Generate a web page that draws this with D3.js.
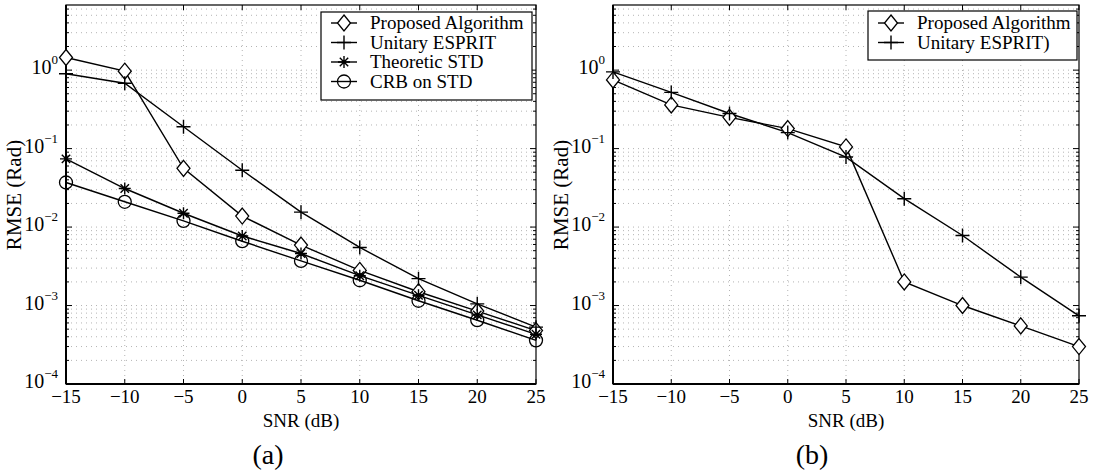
<!DOCTYPE html>
<html>
<head>
<meta charset="utf-8">
<script src="https://cdn.jsdelivr.net/npm/d3@7"></script>
<style>
  body { margin: 0; background: #fff; }
  svg { font-family: "Liberation Serif", "DejaVu Serif", serif; }
  .grid line { stroke: #b4b4b4; stroke-dasharray: 1,4; stroke-width: 1; }
</style>
</head>
<body>
<svg id="chart" width="1094" height="476"></svg>
<script>
// --- data ---
const snr = [-15, -10, -5, 0, 5, 10, 15, 20, 25];

const aProposed  = [1.45, 0.97, 0.056, 0.0138, 0.0059, 0.0028, 0.0015, 0.00085, 0.00048];
const aUnitary   = [0.9, 0.68, 0.19, 0.053, 0.0155, 0.0055, 0.0022, 0.00105, 0.00053];
const aTheoretic = [0.074, 0.031, 0.015, 0.0077, 0.0046, 0.0024, 0.00135, 0.00076, 0.00043];
const aCRB       = [0.037, 0.021, 0.012, 0.0066, 0.0037, 0.0021, 0.00115, 0.00065, 0.00036];

const bProposed  = [0.75, 0.36, 0.25, 0.18, 0.105, 0.002, 0.001, 0.00055, 0.0003];
const bUnitary   = [0.95, 0.52, 0.28, 0.16, 0.078, 0.023, 0.0078, 0.0023, 0.00074];

const xTicks = [-15, -10, -5, 0, 5, 10, 15, 20, 25];
const yDecades = [-4, -3, -2, -1, 0];

const panels = [
  {
    left: 66, right: 536, tag: "(a)", tagX: 268,
    series: [
      { name: "Proposed Algorithm", values: aProposed, marker: "diamond" },
      { name: "Unitary ESPRIT", values: aUnitary, marker: "plus" },
      { name: "Theoretic STD", values: aTheoretic, marker: "star" },
      { name: "CRB on STD", values: aCRB, marker: "circle" }
    ],
    legend: { x: 321, y: 12, w: 211, rowH: 19.5, first: 11 }
  },
  {
    left: 613, right: 1079, tag: "(b)", tagX: 812,
    series: [
      { name: "Proposed Algorithm", values: bProposed, marker: "diamond" },
      { name: "Unitary ESPRIT)", values: bUnitary, marker: "plus" }
    ],
    legend: { x: 868, y: 11, w: 209, rowH: 19.5, first: 12 }
  }
];

const plotTop = 5, plotBottom = 384;
const svg = d3.select("#chart");

function drawMarker(g, type, x, y) {
  if (type === "diamond") {
    g.append("path")
      .attr("d", `M${x},${y - 8}L${x + 6.5},${y}L${x},${y + 8}L${x - 6.5},${y}Z`)
      .attr("fill", "#fff").attr("stroke", "#000").attr("stroke-width", 1.3);
  } else if (type === "circle") {
    g.append("circle").attr("cx", x).attr("cy", y).attr("r", 6.5)
      .attr("fill", "none").attr("stroke", "#000").attr("stroke-width", 1.3);
  } else if (type === "plus") {
    g.append("path")
      .attr("d", `M${x - 7},${y}H${x + 7}M${x},${y - 7}V${y + 7}`)
      .attr("stroke", "#000").attr("stroke-width", 1.4);
  } else if (type === "star") {
    const r = 6;
    g.append("path")
      .attr("d", `M${x - r},${y}H${x + r}M${x},${y - r}V${y + r}` +
        `M${x - r * 0.7},${y - r * 0.7}L${x + r * 0.7},${y + r * 0.7}` +
        `M${x - r * 0.7},${y + r * 0.7}L${x + r * 0.7},${y - r * 0.7}`)
      .attr("stroke", "#000").attr("stroke-width", 1.4);
  }
}

panels.forEach(p => {
  const x = d3.scaleLinear().domain([-15, 25]).range([p.left, p.right]);
  const y = d3.scaleLog().domain([1e-4, Math.pow(10, 0.83)]).range([plotBottom, plotTop]);

  const g = svg.append("g");

  // grid
  const grid = g.append("g").attr("class", "grid");
  xTicks.slice(1, -1).forEach(t => {
    grid.append("line").attr("x1", x(t)).attr("x2", x(t)).attr("y1", plotTop).attr("y2", plotBottom);
  });
  const minor = [];
  yDecades.forEach(d => {
    for (let k = 1; k < 10; k++) {
      const v = k * Math.pow(10, d);
      if (v > 1e-4 && v < y.domain()[1]) minor.push(v);
    }
  });
  minor.forEach(v => {
    grid.append("line").attr("x1", p.left).attr("x2", p.right).attr("y1", y(v)).attr("y2", y(v));
  });

  // ticks (inward, all four sides)
  const ticks = g.append("g").attr("stroke", "#000").attr("stroke-width", 1);
  xTicks.forEach(t => {
    ticks.append("line").attr("x1", x(t)).attr("x2", x(t)).attr("y1", plotBottom).attr("y2", plotBottom - 5);
    ticks.append("line").attr("x1", x(t)).attr("x2", x(t)).attr("y1", plotTop).attr("y2", plotTop + 5);
  });
  minor.forEach(v => {
    const len = Number.isInteger(Math.log10(v)) ? 6 : 3;
    ticks.append("line").attr("x1", p.left).attr("x2", p.left + len).attr("y1", y(v)).attr("y2", y(v));
    ticks.append("line").attr("x1", p.right).attr("x2", p.right - len).attr("y1", y(v)).attr("y2", y(v));
  });

  // frame
  g.append("rect")
    .attr("x", p.left).attr("y", plotTop)
    .attr("width", p.right - p.left).attr("height", plotBottom - plotTop)
    .attr("fill", "none").attr("stroke", "#000").attr("stroke-width", 1.2);
  g.append("line").attr("x1", p.left).attr("x2", p.left).attr("y1", plotTop).attr("y2", plotBottom)
    .attr("stroke", "#000").attr("stroke-width", 2);
  g.append("line").attr("x1", p.left).attr("x2", p.right).attr("y1", plotBottom).attr("y2", plotBottom)
    .attr("stroke", "#000").attr("stroke-width", 2);

  // x tick labels
  xTicks.forEach(t => {
    g.append("text").attr("x", x(t)).attr("y", 403)
      .attr("text-anchor", "middle").attr("font-size", 19)
      .text(t < 0 ? "\u2212" + Math.abs(t) : t);
  });

  // y tick labels
  yDecades.forEach(d => {
    const t = g.append("text").attr("x", p.left - 8).attr("y", y(Math.pow(10, d)) + 4)
      .attr("text-anchor", "end").attr("font-size", 20);
    t.append("tspan").text("10");
    t.append("tspan").attr("dy", -10).attr("font-size", 13)
      .text(d < 0 ? "\u2212" + Math.abs(d) : d);
  });

  // axis labels
  g.append("text").attr("x", (p.left + p.right) / 2).attr("y", 427)
    .attr("text-anchor", "middle").attr("font-size", 19).text("SNR (dB)");
  g.append("text")
    .attr("transform", `translate(${p.left - 45},195) rotate(-90)`)
    .attr("text-anchor", "middle").attr("font-size", 21).text("RMSE (Rad)");
  g.append("text").attr("x", p.tagX).attr("y", 464)
    .attr("text-anchor", "middle").attr("font-size", 28)
    .text(p.tag);

  // series
  const line = d3.line().x((d, i) => x(snr[i])).y(d => y(d));
  p.series.forEach(s => {
    g.append("path").datum(s.values).attr("d", line)
      .attr("fill", "none").attr("stroke", "#000").attr("stroke-width", 1.4);
  });
  p.series.forEach(s => {
    s.values.forEach((v, i) => drawMarker(g, s.marker, x(snr[i]), y(v)));
  });

  // legend
  const L = p.legend;
  const lg = g.append("g");
  lg.append("rect").attr("x", L.x).attr("y", L.y)
    .attr("width", L.w).attr("height", L.rowH * p.series.length + 10)
    .attr("fill", "#fff").attr("stroke", "#000").attr("stroke-width", 1.2);
  p.series.forEach((s, i) => {
    const cy = L.y + L.first + i * L.rowH;
    lg.append("line").attr("x1", L.x + 10).attr("x2", L.x + 36).attr("y1", cy).attr("y2", cy)
      .attr("stroke", "#000").attr("stroke-width", 1.4);
    drawMarker(lg, s.marker, L.x + 23, cy);
    lg.append("text").attr("x", L.x + 49).attr("y", cy + 6)
      .attr("font-size", 19).text(s.name);
  });
});
</script>
</body>
</html>
